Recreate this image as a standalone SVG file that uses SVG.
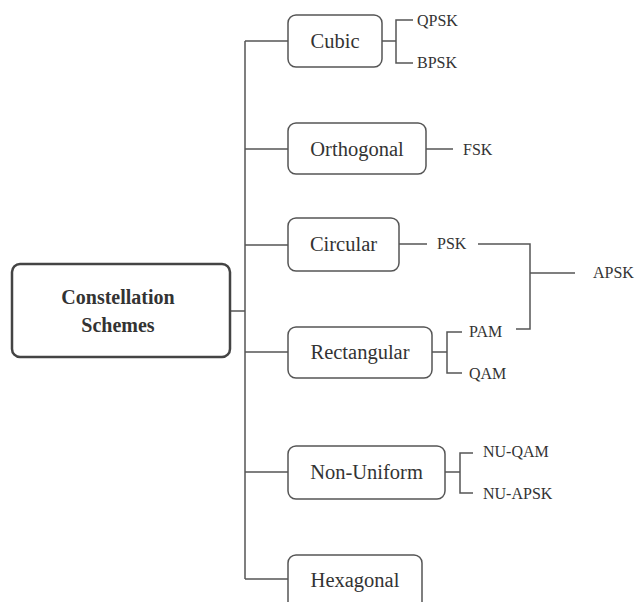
<svg xmlns="http://www.w3.org/2000/svg" width="636" height="602" viewBox="0 0 636 602">
<style>
.box{fill:#fff;stroke:#555;stroke-width:1.5}
.root{fill:#fff;stroke:#444;stroke-width:2.5}
text{font-family:'Liberation Serif','Times New Roman',serif;fill:#333}
.lbl{font-size:20.5px;text-anchor:middle}
.rl{font-size:20px;font-weight:bold;text-anchor:middle}
.sm{font-size:16px}
.ln{fill:none;stroke:#555;stroke-width:1.5}
</style>
<rect width="636" height="602" fill="#fff"/>
<g id="connectors">
<path class="ln" d="M230,311 H245 M245,41 V579 M245,41 H288 M245,149 H288 M245,245 H288 M245,352 H288 M245,472 H288 M245,579 H288"/>
<path class="ln" d="M382,41 H396 M413,20 H396 V63 H413"/>
<path class="ln" d="M426,149 H453"/>
<path class="ln" d="M399,244 H427 M478,244 H530 V329 H516 M530,273 H575"/>
<path class="ln" d="M432,352 H447 M462,332 H447 V373 H462"/>
<path class="ln" d="M445,472 H460 M473,453 H460 V493 H473"/>
</g>
<g id="root"><rect class="root" x="12" y="264" width="218" height="93" rx="8"/>
<text class="rl" x="118" y="304">Constellation</text><text class="rl" x="118" y="332">Schemes</text></g>
<g id="cubic"><rect class="box" x="288" y="15" width="94" height="52" rx="8"/><text class="lbl" x="335" y="48">Cubic</text></g>
<g id="qpsk"><text class="sm" x="417" y="26">QPSK</text></g>
<g id="bpsk"><text class="sm" x="417" y="68">BPSK</text></g>
<g id="orthogonal"><rect class="box" x="288" y="123" width="138" height="51" rx="8"/><text class="lbl" x="357" y="156">Orthogonal</text></g>
<g id="fsk"><text class="sm" x="463" y="155">FSK</text></g>
<g id="circular"><rect class="box" x="288" y="218" width="111" height="53" rx="8"/><text class="lbl" x="343.5" y="251">Circular</text></g>
<g id="psk"><text class="sm" x="437" y="249">PSK</text></g>
<g id="apsk"><text class="sm" x="593" y="278">APSK</text></g>
<g id="rectangular"><rect class="box" x="288" y="327" width="144" height="51" rx="8"/><text class="lbl" x="360" y="359">Rectangular</text></g>
<g id="pam"><text class="sm" x="469" y="337">PAM</text></g>
<g id="qam"><text class="sm" x="469" y="379">QAM</text></g>
<g id="nonuniform"><rect class="box" x="288" y="446" width="157" height="53" rx="8"/><text class="lbl" x="366.5" y="479">Non-Uniform</text></g>
<g id="nuqam"><text class="sm" x="483" y="457">NU-QAM</text></g>
<g id="nuapsk"><text class="sm" x="483" y="499">NU-APSK</text></g>
<g id="hexagonal"><rect class="box" x="288" y="555" width="134" height="60" rx="8"/><text class="lbl" x="355" y="587">Hexagonal</text></g>
</svg>
